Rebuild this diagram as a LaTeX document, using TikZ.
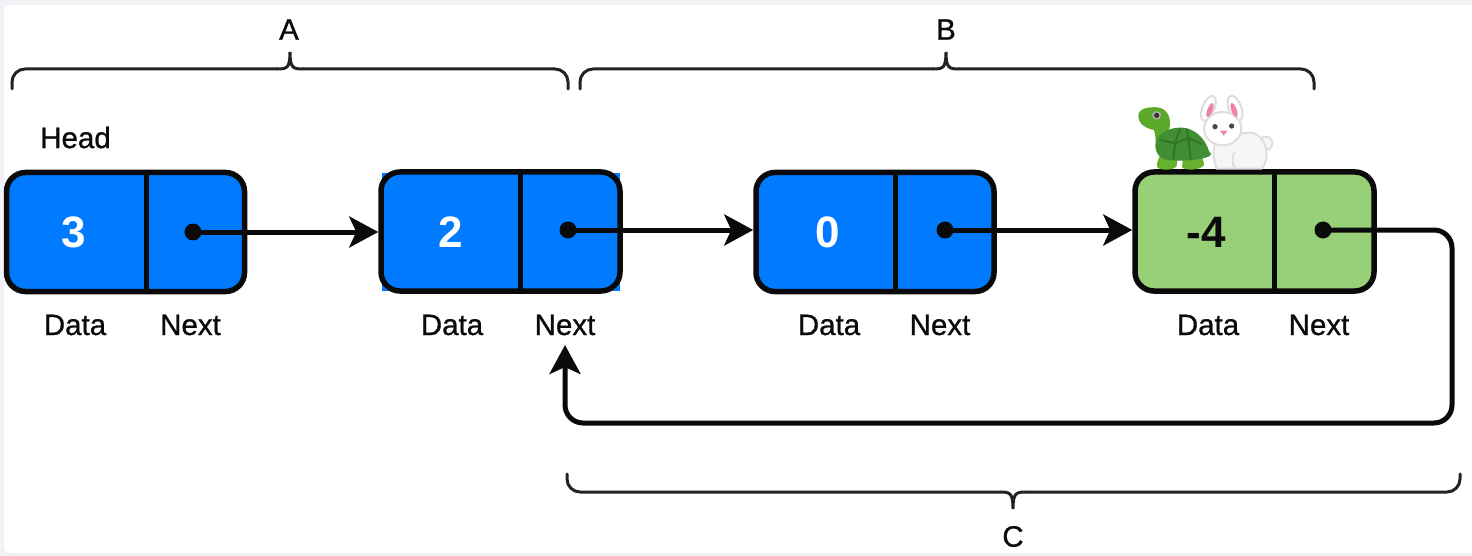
\documentclass[tikz,border=0pt]{standalone}
\usepackage{fontspec}
\setmainfont{Liberation Sans}
\newfontfamily\capfont[FakeBold=0.8]{Liberation Sans}
\usetikzlibrary{arrows.meta}
\definecolor{nodeblue}{HTML}{007BFF}
\definecolor{nodegreen}{HTML}{97D077}
\definecolor{pagegrey}{HTML}{F1F2F5}
\definecolor{ink}{HTML}{0A0A0A}
\definecolor{turtlelight}{RGB}{103,178,44}
\definecolor{turtlehead}{RGB}{92,168,40}
\definecolor{turtleshell}{RGB}{66,142,50}
\definecolor{turtleline}{RGB}{48,118,42}
\definecolor{rabbitline}{RGB}{222,222,222}
\definecolor{rabbitbody}{RGB}{246,246,246}
\definecolor{rabbitpink}{RGB}{240,130,165}
\definecolor{rabbiteye}{RGB}{70,70,75}
\tikzset{
  x=1pt,y=-1pt,
  listbox/.style={draw=ink,line width=5.5pt,rounded corners=19pt,minimum height=119pt,inner sep=0pt},
  divider/.style={draw=ink,line width=5pt},
  value/.style={font=\fontsize{44}{44}\selectfont\bfseries,inner sep=0pt},
  caption/.style={font=\capfont\fontsize{29.5}{30}\selectfont,text=ink,inner sep=0pt,anchor=center},
  pointdot/.style={circle,fill=ink,minimum size=17pt,inner sep=0pt,outer sep=0pt},
  link/.style={draw=ink,line width=5pt,-{Stealth[length=29pt,width=31pt,inset=7pt]}},
  bracket/.style={draw=ink!90,line width=3pt,line cap=round},
  pet line/.style={line width=2pt,line join=round}
}
% #4 = 1: tip points up; -1: tip points down
\newcommand{\curlybrace}[4]{%
  \draw[bracket,rounded corners=13pt] (#1) |- ([xshift=-13pt]#2);
  \draw[bracket,rounded corners=13pt] (#3) |- ([xshift=13pt]#2);
  \draw[bracket] ([xshift=-13pt]#2)
    .. controls ([xshift=-3pt]#2) and ([yshift=#4*1pt]#2) .. ([yshift=#4*17pt]#2)
    .. controls ([yshift=#4*1pt]#2) and ([xshift=3pt]#2) .. ([xshift=13pt]#2);}
\begin{document}
\begin{tikzpicture}
\useasboundingbox (0,0) rectangle (1472,556);
\fill[pagegrey] (0,0) rectangle (1472,556);
\fill[white,rounded corners=6pt] (4,5) rectangle (1480,553);

% small square blue corners behind the second box
\fill[nodeblue] (382,173) rectangle (619.5,291);

% boxes
\node[listbox,fill=nodeblue,minimum width=238pt] (n1) at (125.5,232) {};
\node[listbox,fill=nodeblue,minimum width=239pt] (n2) at (500.5,231.5) {};
\node[listbox,fill=nodeblue,minimum width=238pt] (n3) at (875,232) {};
\node[listbox,fill=nodegreen,minimum width=239pt] (n4) at (1254.5,231.5) {};

% dividers
\coordinate (c1) at (146,232);
\coordinate (c2) at (520,232);
\coordinate (c3) at (895,232);
\coordinate (c4) at (1274,232);
\draw[divider] (c1 |- n1.north) -- (c1 |- n1.south);
\draw[divider] (c2 |- n2.north) -- (c2 |- n2.south);
\draw[divider] (c3 |- n3.north) -- (c3 |- n3.south);
\draw[divider] (c4 |- n4.north) -- (c4 |- n4.south);

% values
\node[value,text=white] (v1) at (73.5,232) {3};
\node[value,text=white] (v2) at (450.5,232) {2};
\node[value,text=white] (v3) at (827.5,232) {0};
\node[value,text=ink] (v4) at (1206,232) {-4};

% pointer dots
\node[pointdot] (p1) at (193,232) {};
\node[pointdot] (p2) at (568,230) {};
\node[pointdot] (p3) at (945,230) {};
\node[pointdot] (p4) at (1323,230) {};

% captions
\node[caption] (head) at (75.5,137.5) {Head};
\node[caption] (d1) at (75,325) {Data};
\node[caption] (x1) at (190.5,325) {Next};
\node[caption] (d2) at (452,325) {Data};
\node[caption] (x2) at (565,325) {Next};
\node[caption] (d3) at (829,325) {Data};
\node[caption] (x3) at (940,325) {Next};
\node[caption] (d4) at (1208,325) {Data};
\node[caption] (x4) at (1319,325) {Next};
\node[caption] (la) at (289,29.5) {A};
\node[caption] (lb) at (946,29.5) {B};
\node[caption] (lc) at (1013,536.5) {C};

% links
\draw[link] (p1.center) -- (p1.center -| n2.west);
\draw[link] (p2.center) -- (p2.center -| n3.west);
\draw[link] (p3.center) -- (p3.center -| n4.west);
\coordinate (loopcorner) at (1452,423);
\coordinate (loopend) at (565,345);
\draw[link,rounded corners=18pt] (p4.center) -| (loopcorner) -| (loopend);

% braces
\coordinate (al) at (12,89); \coordinate (am) at (290,69); \coordinate (ar) at (568,89);
\coordinate (bl) at (580,89); \coordinate (bm) at (946,69); \coordinate (br) at (1314,89);
\coordinate (cl) at (567,474); \coordinate (cm) at (1013,492); \coordinate (cr) at (1460,474);
\curlybrace{al}{am}{ar}{1}
\curlybrace{bl}{bm}{br}{1}
\curlybrace{cl}{cm}{cr}{-1}

% tortoise and rabbit (zoom-crop coordinates, 3 units per pixel)
\begin{scope}[shift={(1120,80)},scale=1/3]
  % tortoise
  \fill[turtleshell] (275,222) -- (250,200) -- (250,235) -- cycle;
  \fill[turtlelight] (112,262) .. controls (122,272) and (160,272) .. (170,258)
     .. controls (175,240) and (170,220) .. (150,220) -- (120,225) .. controls (115,240) and (108,250) .. (112,262) -- cycle;
  \fill[turtlelight] (186,262) .. controls (195,272) and (240,272) .. (252,255)
     .. controls (252,240) and (245,225) .. (230,225) -- (190,225) -- cycle;
  \fill[turtlehead]
    (55,108) .. controls (55,85) and (85,80) .. (112,82)
    .. controls (145,86) and (155,118) .. (148,145)
    .. controls (140,170) and (135,200) .. (135,230)
    -- (112,215) .. controls (105,190) and (108,165) .. (102,150)
    .. controls (75,145) and (55,130) .. (55,108) -- cycle;
  \fill[turtleshell]
    (106,195) .. controls (108,160) and (150,140) .. (190,143)
    .. controls (235,148) and (265,190) .. (270,228)
    .. controls (240,242) and (180,244) .. (140,240)
    .. controls (118,234) and (106,220) .. (106,195) -- cycle;
  \draw[turtleline,pet line]
    (122,180) -- (165,190) -- (205,175) -- (245,192)
    (165,190) -- (160,238) (205,175) -- (212,238) (180,146) -- (165,190) (205,175) -- (200,146);
  \fill[black!30] (110,106) circle (13);
  \fill[black!80] (110,106) circle (8);
  % rabbit
  \begin{scope}[draw=rabbitline,pet line]
    \filldraw[fill=white,rotate around={-22:(265,85)}] (265,85) ellipse (18 and 40);
    \filldraw[fill=white,rotate around={20:(345,85)}] (345,85) ellipse (19 and 40);
    \filldraw[fill=rabbitbody] (437,190) circle (20);
    \filldraw[fill=rabbitbody]
      (285,190) .. controls (275,220) and (285,250) .. (290,266)
      -- (425,266) .. controls (450,240) and (445,170) .. (395,158)
      .. controls (360,158) and (320,170) .. (285,190) -- cycle;
    \filldraw[fill=white] (308,146) ellipse (56 and 50);
    \draw (345,215) .. controls (335,235) and (335,250) .. (345,265);
  \end{scope}
  \fill[rabbitpink,rotate around={-22:(270,90)}] (270,90) ellipse (8 and 22);
  \fill[rabbitpink,rotate around={20:(342,90)}] (342,90) ellipse (8 and 22);
  \fill[rabbiteye] (285,140) circle (8);
  \fill[rabbiteye] (335,138) circle (8);
  \fill[rabbitpink] (300,152) -- (322,152) -- (311,167) -- cycle;
\end{scope}
\end{tikzpicture}
\end{document}
